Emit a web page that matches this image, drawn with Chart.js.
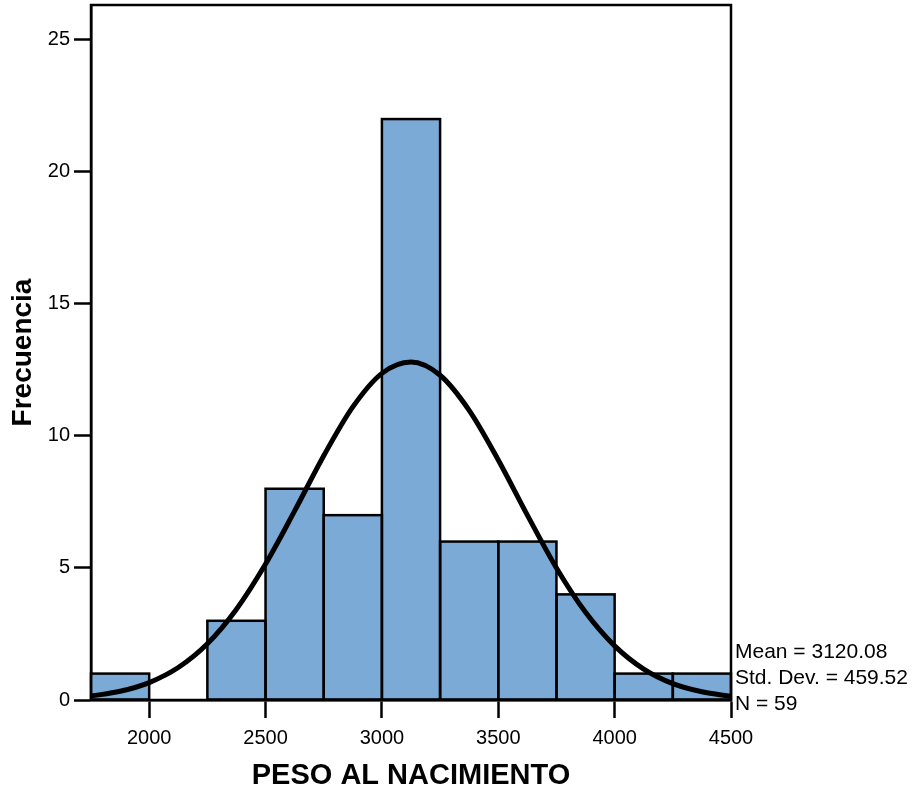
<!DOCTYPE html>
<html>
<head>
<meta charset="utf-8">
<script src="https://cdn.jsdelivr.net/npm/chart.js@4"></script>
<style>
  html, body { margin: 0; padding: 0; background: #fff; }
  canvas { display: block; }
</style>
</head>
<body>
<canvas id="c" width="915" height="793"></canvas>
<script>
// ---- Data ----
const binStarts = [1750, 2000, 2250, 2500, 2750, 3000, 3250, 3500, 3750, 4000, 4250];
const binWidth = 250;
const frequencies = [1, 0, 3, 8, 7, 22, 6, 6, 4, 1, 1];

// normal curve
const curveX = [1750, 1875, 2000, 2125, 2250, 2375, 2500, 2625, 2750, 2875, 3000, 3125,
                3250, 3375, 3500, 3625, 3750, 3875, 4000, 4125, 4250, 4375, 4500];
const curveY = [0.15, 0.33, 0.66, 1.23, 2.13, 3.44, 5.15, 7.16, 9.25, 11.10, 12.37, 12.80,
                12.30, 10.97, 9.09, 7.00, 5.00, 3.32, 2.05, 1.17, 0.62, 0.31, 0.14];

const xTicks = [2000, 2500, 3000, 3500, 4000, 4500];
const yTicks = [0, 5, 10, 15, 20, 25];
const statsLines = ["Mean = 3120.08", "Std. Dev. = 459.52", "N = 59"];
const xTitle = "PESO AL NACIMIENTO";
const yTitle = "Frecuencia";

const FONT = '"Liberation Sans", Arial, Helvetica, sans-serif';

const barData = binStarts.map((s, i) => ({ x: s + binWidth / 2, y: frequencies[i] }));
const lineData = curveX.map((x, i) => ({ x: x, y: curveY[i] }));

// outline every histogram bar once (shared edges not doubled)
const barOutlinePlugin = {
  id: 'barOutline',
  afterDatasetDraw(chart, args) {
    const meta = args.meta;
    if (meta.type !== 'bar') return;
    const ctx = chart.ctx;
    ctx.save();
    ctx.strokeStyle = '#000';
    ctx.lineWidth = 2.5;
    ctx.lineJoin = 'miter';
    meta.data.forEach((el, i) => {
      if (!frequencies[i]) return;
      const p = el.getProps(['x', 'y', 'base', 'width'], true);
      ctx.strokeRect(p.x - p.width / 2, p.y, p.width, p.base - p.y);
    });
    ctx.restore();
  }
};

const framePlugin = {
  id: 'frame',
  afterDraw(chart) {
    const { ctx, chartArea: a } = chart;
    ctx.save();
    ctx.strokeStyle = '#000';
    ctx.lineWidth = 2.5;
    ctx.strokeRect(a.left, a.top, a.right - a.left, a.bottom - a.top);
    ctx.fillStyle = '#000';
    ctx.font = '21px ' + FONT;
    ctx.textAlign = 'left';
    ctx.textBaseline = 'alphabetic';
    statsLines.forEach((t, i) => ctx.fillText(t, a.right + 4, 658 + i * 26));
    ctx.restore();
  }
};

new Chart(document.getElementById('c'), {
  data: {
    datasets: [
      {
        type: 'line',
        data: lineData,
        borderColor: '#000',
        borderWidth: 5,
        pointRadius: 0,
        cubicInterpolationMode: 'monotone',
        fill: false,
        order: 0
      },
      {
        type: 'bar',
        data: barData,
        backgroundColor: '#7BAAD7',
        borderWidth: 0,
        barPercentage: 1,
        categoryPercentage: 1,
        inflateAmount: 0,
        order: 1
      }
    ]
  },
  options: {
    responsive: false,
    animation: false,
    devicePixelRatio: 1,
    layout: { padding: { left: 0, right: 184, top: 5, bottom: 0 } },
    plugins: { legend: { display: false }, tooltip: { enabled: false } },
    scales: {
      x: {
        type: 'linear',
        offset: false,
        min: 1750,
        max: 4500,
        afterBuildTicks: s => { s.ticks = xTicks.map(v => ({ value: v })); },
        afterFit: s => { s.height = 93; s.paddingLeft = 0; s.paddingRight = 0; },
        ticks: {
          color: '#000',
          font: { family: FONT, size: 20 },
          padding: 8,
          maxRotation: 0,
          autoSkip: false,
          callback: v => String(v)
        },
        grid: {
          offset: false,
          drawOnChartArea: false,
          drawTicks: true,
          tickLength: 18,
          tickWidth: 2.5,
          tickColor: '#000'
        },
        border: { display: true, color: '#000', width: 2.5 },
        title: {
          display: true,
          text: xTitle,
          color: '#000',
          font: { family: FONT, size: 29, weight: 'bold', lineHeight: 1.2 },
          padding: { top: 2, bottom: 0 }
        }
      },
      y: {
        type: 'linear',
        min: 0,
        max: 26.32,
        afterBuildTicks: s => { s.ticks = yTicks.map(v => ({ value: v })); },
        afterFit: s => { s.width = 91; s.paddingTop = 0; s.paddingBottom = 0; },
        ticks: {
          color: '#000',
          font: { family: FONT, size: 20 },
          padding: 4,
          autoSkip: false,
          callback: v => String(v)
        },
        grid: {
          drawOnChartArea: false,
          drawTicks: true,
          tickLength: 17,
          tickWidth: 2.5,
          tickColor: '#000'
        },
        border: { display: true, color: '#000', width: 2.5 },
        title: {
          display: true,
          text: yTitle,
          color: '#000',
          font: { family: FONT, size: 28, weight: 'bold', lineHeight: 1.2 },
          padding: { top: 6, bottom: 0 }
        }
      }
    }
  },
  plugins: [barOutlinePlugin, framePlugin]
});
</script>
</body>
</html>
